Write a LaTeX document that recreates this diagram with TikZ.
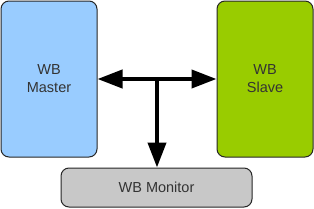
\documentclass[tikz,border=0pt]{standalone}
\usepackage{fontspec}
\setmainfont{Liberation Sans}
\usetikzlibrary{arrows.meta}
\definecolor{mblue}{HTML}{99CCFF}
\definecolor{sgreen}{HTML}{99CC00}
\definecolor{mgray}{HTML}{C8C8C8}
\begin{document}
\begin{tikzpicture}[x=1pt,y=-1pt,
  blk/.style={draw=black!85,line width=1pt,rounded corners=8pt,align=center,font=\fontsize{14.5}{18}\selectfont,text=black!80,inner sep=0pt},
  arr/.style={line width=4pt,-{Triangle[length=25pt,width=18pt]}}]
\useasboundingbox (0,0) rectangle (314,209);
\node[blk,fill=mblue,minimum width=96pt,minimum height=156pt] (m) at (49,79) {WB\\Master};
\node[blk,fill=sgreen,minimum width=96pt,minimum height=156pt] (s) at (265,79) {WB\\Slave};
\node[blk,fill=mgray,minimum width=191pt,minimum height=39pt] (mon) at (156.5,187.5) {WB Monitor};
\coordinate (j) at (157,79);
\draw[line width=4pt,{Triangle[length=25pt,width=18pt]}-{Triangle[length=25pt,width=18pt]}] (m.east) -- (s.west);
\draw[arr] (j) -- (j |- mon.north);
\end{tikzpicture}
\end{document}
